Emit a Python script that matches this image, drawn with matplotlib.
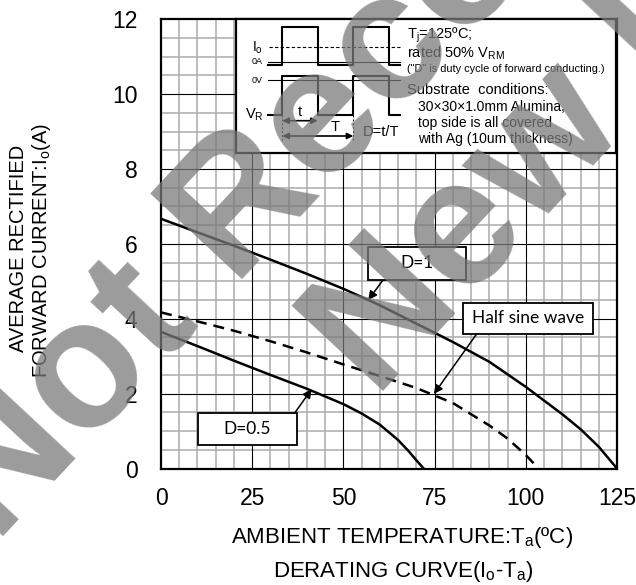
import matplotlib
matplotlib.use("Agg")
import matplotlib.pyplot as plt
from matplotlib.patches import Rectangle
import numpy as np

# derating curves
temp_d1 = [0, 10, 20, 30, 40, 50, 60, 70, 80, 90, 100, 110, 115, 120, 125]
io_d1 = [6.67, 6.31, 5.95, 5.58, 5.2, 4.8, 4.36, 3.87, 3.38, 2.85, 2.18, 1.45, 1.05, 0.58, 0]

temp_hs = [0, 10, 20, 30, 40, 50, 60, 70, 80, 90, 95, 100, 103.5]
io_hs = [4.17, 3.93, 3.68, 3.4, 3.1, 2.78, 2.47, 2.15, 1.75, 1.15, 0.8, 0.36, 0]

temp_d05 = [0, 10, 20, 30, 40, 50, 55, 60, 65, 68, 70, 72]
io_d05 = [3.65, 3.27, 2.88, 2.5, 2.13, 1.72, 1.47, 1.17, 0.76, 0.45, 0.22, 0]

x_ticks = [0, 25, 50, 75, 100, 125]
y_ticks = [0, 2, 4, 6, 8, 10, 12]

# callout labels: text, box (x0, y0, x1, y1), arrow start, arrow tip
label_text = ["D=1", "Half sine wave", "D=0.5"]
label_box = [(56.8, 5.04, 83.7, 5.93), (82.8, 3.59, 118.4, 4.43), (10.2, 0.63, 37.2, 1.48)]
arrow_from = [(60.9, 5.04), (86.5, 3.59), (36.7, 1.49)]
arrow_to = [(56.8, 4.5), (74.8, 1.99), (41.3, 2.12)]

W, H = 636, 585
fig = plt.figure(figsize=(W / 100, H / 100), dpi=100)
plt.rcParams["font.family"] = ["Liberation Sans", "DejaVu Sans"]

def fx(px):
    return px / W

def fy(py):
    return 1 - py / H

ax = fig.add_axes([fx(161), fy(468.5), fx(617) - fx(161), fy(19.3) - fy(468.5)])
ax.set_xlim(0, 125)
ax.set_ylim(0, 12)

# grid: gray every 5 / 0.5, black every 25 / 2
for v in np.arange(5, 125, 5):
    if v % 25:
        ax.axvline(v, color="#ababab", lw=1.1, zorder=1)
for v in np.arange(0.5, 12, 0.5):
    if v % 2:
        ax.axhline(v, color="#ababab", lw=1.1, zorder=1)
for v in x_ticks[1:-1]:
    ax.axvline(v, color="black", lw=0.8, zorder=1.5)
for v in y_ticks[1:-1]:
    ax.axhline(v, color="black", lw=0.8, zorder=1.5)

ax.plot(temp_d1, io_d1, color="black", lw=1.8, zorder=3)
ax.plot(temp_hs, io_hs, color="black", lw=1.8, ls=(0, (4.4, 2.8)), zorder=3)
ax.plot(temp_d05, io_d05, color="black", lw=1.8, zorder=3)

for txt, (x0, y0, x1, y1), a0, a1 in zip(label_text, label_box, arrow_from, arrow_to):
    ax.annotate("", xy=a1, xytext=a0,
                arrowprops=dict(arrowstyle="-|>", color="black", lw=1.1,
                                mutation_scale=13, shrinkA=0, shrinkB=0), zorder=4)
    ax.add_patch(Rectangle((x0, y0), x1 - x0, y1 - y0, facecolor="white",
                           edgecolor="black", lw=1.3, zorder=5))
    ax.text((x0 + x1) / 2, (y0 + y1) / 2, txt, family="Lato", fontsize=12.5,
            ha="center", va="center", zorder=6)

ax.set_xticks(x_ticks)
ax.set_yticks(y_ticks)
ax.tick_params(length=0, labelsize=16.5)
ax.tick_params(axis="x", pad=13)
ax.tick_params(axis="y", pad=17)
for s in ax.spines.values():
    s.set_linewidth(1.6)
    s.set_zorder(7)

fig.text(fx(18.5), fy(248), "AVERAGE RECTIFIED", rotation=90, ha="center", va="center", fontsize=14.5)
fig.text(fx(42), fy(250), "FORWARD CURRENT:I$_\\mathregular{o}$(A)", rotation=90,
         ha="center", va="center", fontsize=14.5)
fig.text(fx(402), fy(537), "AMBIENT TEMPERATURE:T$_\\mathregular{a}$(ºC)", ha="center", va="center", fontsize=16)
fig.text(fx(403), fy(572), "DERATING CURVE(I$_\\mathregular{o}$-T$_\\mathregular{a}$)", ha="center", va="center", fontsize=16)

# inset with waveform sketch and conditions, drawn in reference pixel units
ins = fig.add_axes([fx(236), fy(152.7), fx(616) - fx(236), fy(19.3) - fy(152.7)])
ins.set_xlim(236, 616)
ins.set_ylim(152.7, 19.3)
ins.set_xticks([])
ins.set_yticks([])
for s in ins.spines.values():
    s.set_linewidth(1.6)

xs = [268, 282.3, 282.3, 317.7, 317.7, 353.3, 353.3, 389, 389, 400]
ins.plot(xs, [65, 65, 27.3, 27.3, 65, 65, 27.3, 27.3, 65, 65], color="black", lw=1.5)
ins.plot(xs, [115, 115, 76, 76, 115, 115, 76, 76, 115, 115], color="black", lw=1.5)
ins.plot([268, 400], [61.7, 61.7], color="black", lw=0.8)
ins.plot([268, 400], [80, 80], color="black", lw=0.8)
ins.plot([269, 400], [46.7, 46.7], color="black", lw=0.8, ls=(0, (3, 2)))
ins.plot([282.3, 282.3], [115, 141.7], color="black", lw=0.7, ls=(0, (2, 2)))
ins.plot([353.3, 353.3], [115, 141.7], color="black", lw=0.7, ls=(0, (2, 2)))
ins.annotate("", xy=(282.3, 120.7), xytext=(317.7, 120.7),
             arrowprops=dict(arrowstyle="<|-|>", color="black", lw=1.2, mutation_scale=9, shrinkA=0, shrinkB=0))
ins.annotate("", xy=(282.3, 136), xytext=(353.3, 136),
             arrowprops=dict(arrowstyle="<|-|>", color="black", lw=1.2, mutation_scale=9, shrinkA=0, shrinkB=0))
ins.text(300, 111.5, "t", fontsize=10.5, ha="center", va="center")
ins.text(335, 126.5, "T", fontsize=10.5, ha="center", va="center")
ins.text(363, 132, "D=t/T", fontsize=10.5, ha="left", va="center")
ins.text(263, 47.5, "I$_\\mathregular{o}$", fontsize=10, ha="right", va="center")
ins.text(263, 62, "0A", fontsize=6.5, ha="right", va="center")
ins.text(263, 80, "0V", fontsize=6.5, ha="right", va="center")
ins.text(264, 115, "V$_\\mathregular{R}$", fontsize=10.5, ha="right", va="center")

ins.text(407, 35, "T$_\\mathregular{j}$=125ºC;", fontsize=10.5, ha="left", va="center")
ins.text(407, 53, "rated 50% V$_\\mathregular{RM}$", fontsize=10.5, ha="left", va="center")
ins.text(407, 68.5, "(\"D\" is duty cycle of forward conducting.)", fontsize=7.9, ha="left", va="center")
ins.text(407, 90, "Substrate  conditions:", fontsize=10.5, ha="left", va="center")
ins.text(418, 107, "30×30×1.0mm Alumina,", fontsize=10, ha="left", va="center")
ins.text(418, 123, "top side is all covered", fontsize=10, ha="left", va="center")
ins.text(418, 138.5, "with Ag (10um thickness)", fontsize=10, ha="left", va="center")

# watermark
wm = dict(fontsize=130, fontweight="bold", color="#7a7a7a", alpha=0.75, rotation=47,
          rotation_mode="anchor", ha="left", va="baseline", zorder=20)
fig.text(fx(-4), fy(545), "Not Recommended", **wm)
fig.text(fx(375), fy(399), "New Designs", **wm)

fig.savefig("out.png", dpi=100)
